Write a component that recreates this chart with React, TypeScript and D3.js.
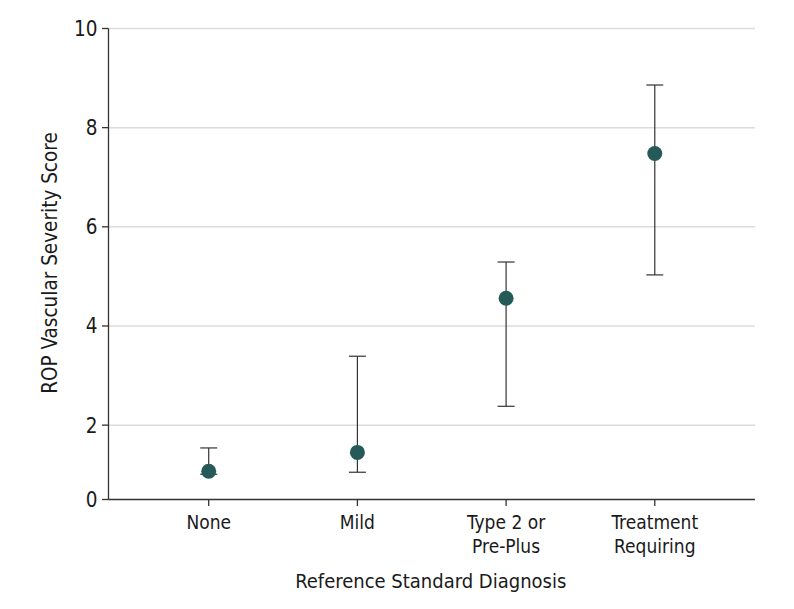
import React from "react";
import * as d3 from "d3";

const categories: string[][] = [["None"], ["Mild"], ["Type 2 or", "Pre-Plus"], ["Treatment", "Requiring"]];
const categoryKeys = ["None", "Mild", "Type 2 or Pre-Plus", "Treatment Requiring"];
const medians = [1.07, 1.45, 4.56, 7.48];
const lowers = [1.01, 1.05, 2.38, 5.03];
const uppers = [1.54, 3.39, 5.29, 8.86];
const yTicks = [0.5, 2, 4, 6, 8, 10];
const yTickLabels = ["0", "2", "4", "6", "8", "10"];

const W = 794, H = 609;
const left = 108.5, right = 755, top = 28.5, bottom = 499.5;
const FONT = "'DejaVu Sans Condensed', 'DejaVu Sans', sans-serif";

export default function App() {
  const x = d3.scalePoint<string>().domain(categoryKeys).range([left, right]).padding(0.674);
  const y = d3.scaleLinear().domain([0.5, 10]).range([bottom, top]);
  const r = 7.5, cap = 8.5;
  return (
    <svg width={W} height={H} style={{ position: "absolute", left: 0, top: 0, background: "#fff" }} fontFamily={FONT}>
      {yTicks.slice(1).map((t) => (
        <line key={"g" + t} x1={left} x2={right} y1={y(t)} y2={y(t)} stroke="#dcdcdc" strokeWidth={1.5} />
      ))}
      <line x1={left} x2={left} y1={top} y2={bottom} stroke="#333" strokeWidth={1.3} />
      <line x1={left} x2={right} y1={bottom} y2={bottom} stroke="#333" strokeWidth={1.3} />
      {yTicks.map((t, i) => (
        <g key={"t" + t}>
          <line x1={left - 6.5} x2={left} y1={y(t)} y2={y(t)} stroke="#333" strokeWidth={1.3} />
          <text x={left - 11} y={y(t)} dy="0.36em" textAnchor="end" fontSize={20.5} fill="#1a1a1a">
            {yTickLabels[i]}
          </text>
        </g>
      ))}
      {categoryKeys.map((c, i) => (
        <g key={c}>
          <line x1={x(c)} x2={x(c)} y1={bottom} y2={bottom + 6.5} stroke="#333" strokeWidth={1.3} />
          {categories[i].map((ln, j) => (
            <text key={j} x={x(c)} y={529 + j * 24} textAnchor="middle" fontSize={19} fill="#1a1a1a">
              {ln}
            </text>
          ))}
        </g>
      ))}
      {categoryKeys.map((c, i) => {
        const cx = x(c)!;
        return (
          <g key={"e" + c}>
            <line x1={cx} x2={cx} y1={y(lowers[i])} y2={y(uppers[i])} stroke="#333" strokeWidth={1.2} />
            <line x1={cx - cap} x2={cx + cap} y1={y(lowers[i])} y2={y(lowers[i])} stroke="#333" strokeWidth={1.2} />
            <line x1={cx - cap} x2={cx + cap} y1={y(uppers[i])} y2={y(uppers[i])} stroke="#333" strokeWidth={1.2} />
            <circle cx={cx} cy={y(medians[i])} r={r} fill="#265a58" />
          </g>
        );
      })}
      <text x={(left + right) / 2 - 1} y={588} textAnchor="middle" fontSize={20} fill="#1a1a1a">
        Reference Standard Diagnosis
      </text>
      <text transform={`translate(57,263) rotate(-90)`} textAnchor="middle" fontSize={20.5} fill="#1a1a1a">
        ROP Vascular Severity Score
      </text>
    </svg>
  );
}
